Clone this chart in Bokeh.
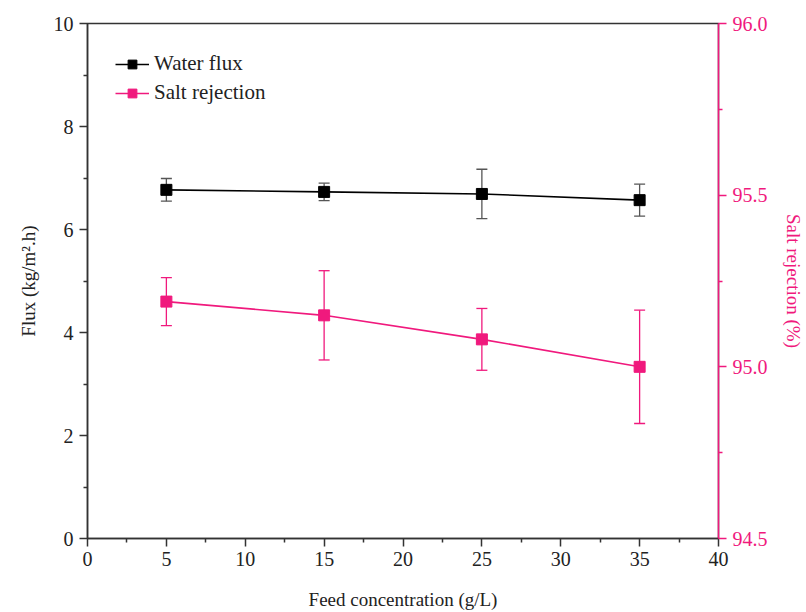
from bokeh.plotting import figure
from bokeh.models import Range1d, LinearAxis, Legend, LegendItem, FixedTicker, NumeralTickFormatter
from bokeh.embed import file_html
from bokeh.resources import INLINE

# data
conc = [5, 15, 25, 35]
flux = [6.77, 6.73, 6.69, 6.57]
flux_err = [0.22, 0.17, 0.48, 0.31]
rej = [95.19, 95.15, 95.08, 95.00]
rej_err = [0.07, 0.13, 0.09, 0.165]
x_ticks = [0, 5, 10, 15, 20, 25, 30, 35, 40]
y_ticks = [0, 2, 4, 6, 8, 10]
y2_ticks = [94.5, 95.0, 95.5, 96.0]

PINK = "#F0197D"
FONT = "Liberation Serif"
AX = "#333333"
TXT = "#222222"

p = figure(width=806, height=612, output_backend="svg", toolbar_location=None,
           x_range=Range1d(0, 40), y_range=Range1d(0, 10),
           min_border_left=87, min_border_right=86, min_border_top=23, min_border_bottom=74)
p.extra_y_ranges = {"right": Range1d(94.5, 96.0)}
p.grid.visible = False
p.outline_line_color = AX
p.outline_line_width = 1.5
p.background_fill_color = "white"
p.border_fill_color = "white"

def style(ax, color, tcolor):
    ax.axis_line_color = color
    ax.axis_line_width = 1.5
    ax.major_tick_line_color = color
    ax.minor_tick_line_color = color
    ax.major_tick_line_width = 1.5
    ax.minor_tick_line_width = 1.5
    ax.major_tick_out = 8
    ax.major_tick_in = 0
    ax.minor_tick_out = 4
    ax.minor_tick_in = 0
    ax.major_label_text_font = FONT
    ax.major_label_text_font_size = "20px"
    ax.major_label_text_color = tcolor
    ax.axis_label_text_font = FONT
    ax.axis_label_text_font_size = "19px"
    ax.axis_label_text_font_style = "normal"
    ax.axis_label_text_color = tcolor

xa = p.xaxis[0]
style(xa, AX, TXT)
xa.ticker = FixedTicker(ticks=x_ticks, minor_ticks=[2.5 + 5 * i for i in range(8)])
xa.axis_label = "Feed concentration (g/L)"
xa.axis_label_standoff = 20
xa.major_label_standoff = 5

ya = p.yaxis[0]
style(ya, AX, TXT)
ya.ticker = FixedTicker(ticks=y_ticks, minor_ticks=[1, 3, 5, 7, 9])
ya.axis_label = "Flux (kg/m\u00b2.h)"
ya.axis_label_standoff = 12
ya.major_label_standoff = 6

ra = LinearAxis(y_range_name="right")
style(ra, PINK, PINK)
ra.ticker = FixedTicker(ticks=y2_ticks, minor_ticks=[94.75, 95.25, 95.75])
ra.formatter = NumeralTickFormatter(format="0.0")
ra.axis_label = "Salt rejection (%)"
ra.axis_label_standoff = 12
ra.major_label_standoff = 6
p.add_layout(ra, "right")

# water flux
lo = [f - e for f, e in zip(flux, flux_err)]
hi = [f + e for f, e in zip(flux, flux_err)]
p.segment(conc, lo, conc, hi, line_color="#555555", line_width=1.3)
p.dash(conc, lo, size=11, line_color="#555555", line_width=1.3)
p.dash(conc, hi, size=11, line_color="#555555", line_width=1.3)
l1 = p.line(conc, flux, line_color="black", line_width=1.6)
m1 = p.scatter(conc, flux, marker="square", size=11, fill_color="black", line_color="black")

# salt rejection
lo2 = [f - e for f, e in zip(rej, rej_err)]
hi2 = [f + e for f, e in zip(rej, rej_err)]
p.segment(conc, lo2, conc, hi2, line_color=PINK, line_width=1.3, y_range_name="right")
p.dash(conc, lo2, size=11, line_color=PINK, line_width=1.3, y_range_name="right")
p.dash(conc, hi2, size=11, line_color=PINK, line_width=1.3, y_range_name="right")
l2 = p.line(conc, rej, line_color=PINK, line_width=1.6, y_range_name="right")
m2 = p.scatter(conc, rej, marker="square", size=11, fill_color=PINK, line_color=PINK, y_range_name="right")

legend = Legend(items=[LegendItem(label="Water flux", renderers=[l1, m1]),
                       LegendItem(label="Salt rejection", renderers=[l2, m2])],
                location="top_left")
legend.border_line_color = None
legend.background_fill_alpha = 0
legend.label_text_font = FONT
legend.label_text_font_size = "21px"
legend.label_text_color = TXT
legend.glyph_width = 34
legend.glyph_height = 22
legend.spacing = 4
legend.margin = 28
legend.padding = 0
legend.label_standoff = 5
p.add_layout(legend)

open("out.html", "w").write(file_html(p, INLINE))
